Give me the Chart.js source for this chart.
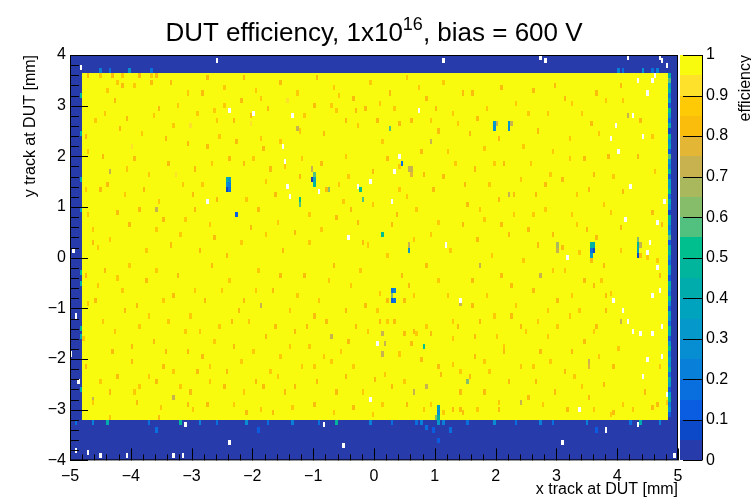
<!DOCTYPE html>
<html>
<head>
<meta charset="utf-8">
<script src="https://cdn.jsdelivr.net/npm/chart.js@4.4.0/dist/chart.umd.min.js"></script>
<style>
  html, body { margin: 0; padding: 0; background: #fff; }
</style>
</head>
<body>
<canvas id="c" width="751" height="498"></canvas>
<script>
// histogram binning (mm)
const xRange = [-5, 5];
const yRange = [-4, 4];
const binW = 0.04;
const binH = 0.05;
const pixelH = 0.1;   // height of one marked pixel (two bins)

// sensor area (fully efficient) and the region around it
const sensorX = [-4.8, 4.84];
const sensorY = [-3.2, 3.65];
const sensorEff = 1.0;
const outsideEff = 0.02;

const xTicks = [-5, -4, -3, -2, -1, 0, 1, 2, 3, 4, 5];
const yTicks = [-4, -3, -2, -1, 0, 1, 2, 3, 4];
const zTicks = [0, 0.1, 0.2, 0.3, 0.4, 0.5, 0.6, 0.7, 0.8, 0.9, 1];

// lower efficiency pixels inside the sensor [x, y, eff]
const speckles = [
  [-2.61,2.90,0.88],[-2.20,3.08,0.83],[-2.58,2.68,0.88],[-2.04,2.80,0.83],[-2.04,2.64,0.92],[-1.87,2.35,0.88],
  [-1.84,2.15,0.83],[-1.55,2.29,0.88],[-1.27,2.55,0.72],[-1.22,2.49,0.88],[-1.00,3.00,0.83],[-0.69,3.00,0.88],
  [-0.61,2.88,0.88],[-0.48,2.68,0.83],[-0.26,2.60,0.88],[0.05,2.68,0.83],[0.13,2.29,0.88],[0.63,2.68,0.83],
  [0.92,2.68,0.88],[0.92,2.29,0.72],[1.05,2.49,0.83],[1.20,2.09,0.88],[0.76,2.11,0.83],[0.40,1.82,0.88],
  [-0.03,1.70,0.83],[-0.44,1.60,0.88],[-0.77,1.37,0.83],[-1.46,1.82,0.88],[-1.71,1.76,0.83],[-1.99,1.96,0.88],
  [-2.15,1.86,0.83],[-2.53,2.39,0.88],[-2.75,2.21,0.83],[-2.81,1.46,0.88],[-2.57,1.17,0.83],[-2.09,1.17,0.88],
  [-1.91,0.97,0.83],[-1.58,0.72,0.88],[-1.30,0.52,0.83],[-1.05,0.83,0.88],[-0.61,0.81,0.83],[-0.51,1.11,0.88],
  [-0.28,0.68,0.83],[-0.02,1.03,0.88],[0.31,0.64,0.83],[0.71,0.97,0.88],[0.97,1.37,0.83],[1.04,0.72,0.88],
  [1.14,1.62,0.83],[0.43,1.37,0.88],[-2.04,0.62,0.83],[-2.20,0.32,0.88],[-2.61,0.42,0.83],[-1.05,0.32,0.88],
  [-0.18,0.32,0.83],[0.64,0.34,0.88],[-2.25,2.29,0.83],[-0.48,1.99,0.88],[-1.22,1.60,0.83],[0.59,1.76,0.72],
  [0.56,-0.54,0.83],[0.64,-0.74,0.88],[0.51,-0.84,0.83],[0.10,-0.70,0.88],[0.23,-0.84,0.83],[0.05,-1.03,0.88],
  [0.10,-1.23,0.83],[0.21,-1.23,0.88],[0.35,-1.23,0.83],[0.87,-1.33,0.88],[0.64,-1.43,0.83],[1.30,-1.23,0.88],
  [1.38,-1.33,0.83],[1.22,-0.76,0.88],[1.42,-0.90,0.72],[0.48,-1.52,0.83],[0.71,-1.52,0.88],[0.95,-1.48,0.83],
  [1.28,-1.62,0.88],[0.13,-1.52,0.72],[0.18,-1.72,0.72],[0.63,-1.72,0.83],[0.13,-1.92,0.72],[0.40,-1.92,0.88],
  [0.78,-2.02,0.83],[1.28,-2.11,0.88],[1.04,-2.13,0.83],[0.18,-2.31,0.88],[0.02,-2.41,0.83],[0.48,-2.43,0.88],
  [1.09,-2.31,0.83],[1.42,-2.27,0.88],[0.31,-2.53,0.83],[0.87,-2.53,0.72],[1.42,-2.63,0.83],[0.15,-2.92,0.88],
  [0.54,-2.92,0.83],[0.92,-2.92,0.88],[1.30,-3.00,0.83],[0.81,-3.02,0.88],[1.45,-3.06,0.83],[-0.02,-3.10,0.88],
  [0.67,-2.63,0.72],
  [3.67,0.38,0.83],[4.05,0.13,0.88],[3.11,0.19,0.83],[3.36,0.09,0.88],[3.83,-0.74,0.83],[3.26,-0.74,0.88],
  [4.05,0.58,0.83],[4.49,-0.01,0.88],[4.75,0.64,0.83],[4.66,-0.07,0.88],
  [4.05,3.39,0.83],[4.08,3.08,0.88],[4.16,2.78,0.72],[4.38,2.68,0.83],[4.59,2.41,0.88],[3.85,2.01,0.83],
  [3.92,1.62,0.88],[4.34,1.99,0.83],[4.62,1.72,0.88],[4.10,1.31,0.83],[3.88,0.91,0.88],[4.59,0.91,0.83],
  [3.77,-0.17,0.83],[3.75,-0.44,0.88],[4.71,-0.36,0.83],[3.88,-0.70,0.88],[3.80,-1.03,0.83],[4.05,-1.23,0.72],
  [4.00,-1.78,0.88],[3.92,-2.13,0.83],[4.71,-2.13,0.88],[3.77,-2.51,0.83],[4.10,-2.92,0.88],[4.46,-2.63,0.83],
  [3.88,-3.10,0.88],[4.66,-2.90,0.83],
  [-4.72,3.59,0.83],[-4.51,3.58,0.88],[-4.31,3.59,0.83],[-4.39,3.29,0.88],[-4.26,3.10,0.83],[-4.59,2.70,0.88],
  [-4.75,2.41,0.83],[-4.70,2.09,0.88],[-4.34,1.70,0.72],[-4.46,1.99,0.83],[-4.75,1.33,0.88],[-4.51,1.33,0.83],
  [-4.70,0.83,0.88],[-4.23,0.91,0.83],[-4.62,0.54,0.88],
  [-4.62,0.28,0.83],[-4.54,0.19,0.88],[-4.75,-0.34,0.83],[-4.72,-0.90,0.88],[-4.59,-0.84,0.83],[-4.79,-1.62,0.88],
  [-4.75,-2.13,0.83],[-4.62,-2.82,0.72],[-4.21,-0.40,0.88],
  [-4.14,3.59,0.88],[-4.13,3.39,0.83],[-3.93,3.39,0.88],[-3.85,3.59,0.83],[-3.68,3.59,0.88],[-3.57,3.59,0.83],
  [-4.23,3.43,0.88],[-3.68,3.43,0.83],
  [-4.62,-2.86,0.88],[-3.90,-2.86,0.83],[-3.52,-2.96,0.88],[-3.08,-2.90,0.83],[-2.98,-3.02,0.88],[-2.75,-2.92,0.83],
  [-2.32,-2.90,0.88],[-2.09,-3.06,0.83],[-1.87,-3.00,0.88],[-1.66,-3.06,0.83],[-1.33,-2.96,0.88],[-1.00,-2.90,0.83],
  [-0.67,-3.06,0.88],[-0.34,-2.96,0.83],[-3.55,-3.15,0.83],[-4.34,-3.15,0.88],
  [1.14,-3.06,0.88],[1.42,-3.00,0.83],[1.69,-3.02,0.88],[2.07,-3.02,0.83],[2.40,-2.86,0.72],[2.78,-2.92,0.88],
  [3.18,-3.02,0.83],[3.60,-3.00,0.88],[3.93,-3.06,0.83],[4.26,-3.02,0.88],[4.59,-2.96,0.83],[4.82,-2.86,0.88],
  [-4.05,2.75,0.83],[-3.82,2.45,0.88],[-3.55,2.95,0.83],[-3.30,2.62,0.88],[-3.05,2.25,0.83],[-2.90,2.85,0.88],
  [-3.95,1.95,0.83],[-3.70,1.65,0.88],[-3.40,1.85,0.83],[-3.15,1.45,0.88],[-2.95,1.75,0.83],[-4.10,1.25,0.88],
  [-3.85,0.95,0.83],[-3.60,0.55,0.88],[-3.35,0.25,0.83],[-3.10,0.75,0.88],[-2.88,0.15,0.83],[-4.02,-0.15,0.88],
  [-3.75,-0.45,0.83],[-3.48,-0.85,0.88],[-3.22,-0.35,0.83],[-2.95,-0.65,0.88],[-4.12,-1.05,0.83],[-3.88,-1.35,0.88],
  [-3.62,-1.65,0.83],[-3.38,-1.25,0.88],[-3.08,-1.85,0.83],[-2.85,-1.45,0.88],[-4.00,-2.05,0.83],[-3.72,-2.35,0.88],
  [-3.45,-2.15,0.83],[-3.18,-2.55,0.88],[-2.92,-2.25,0.83],[-3.95,-2.65,0.88],[-3.30,-2.75,0.72],[-3.60,0.95,0.72],
  [-2.65,-0.15,0.83],[-2.40,-0.45,0.88],[-2.15,-0.85,0.83],[-1.90,-0.25,0.88],[-1.65,-0.65,0.83],[-1.40,-1.05,0.88],
  [-1.15,-0.35,0.83],[-0.90,-0.85,0.88],[-0.65,-0.15,0.83],[-0.40,-0.55,0.88],[-0.15,-0.95,0.83],[-2.55,-1.35,0.88],
  [-2.30,-1.75,0.83],[-2.05,-1.25,0.88],[-1.80,-1.55,0.83],[-1.55,-1.95,0.88],[-1.30,-1.45,0.83],[-1.05,-1.75,0.88],
  [-0.80,-1.25,0.83],[-0.55,-1.85,0.88],[-0.30,-1.35,0.83],[-2.70,-2.15,0.88],[-2.45,-2.55,0.83],[-2.20,-2.05,0.88],
  [-1.95,-2.45,0.83],[-1.70,-2.25,0.88],[-1.45,-2.65,0.83],[-1.20,-2.15,0.88],[-0.95,-2.45,0.83],[-0.70,-2.05,0.88],
  [-0.45,-2.35,0.83],[-0.20,-2.65,0.88],[-1.85,-0.95,0.72],[-0.72,-1.55,0.72],
  [1.62,3.25,0.83],[1.85,2.95,0.88],[2.10,3.35,0.83],[2.35,3.05,0.88],[2.60,3.30,0.83],[2.85,2.85,0.88],
  [1.58,2.45,0.83],[1.80,2.15,0.88],[2.05,2.35,0.83],[2.45,2.20,0.88],[2.70,2.50,0.83],[2.95,2.10,0.88],
  [1.65,1.75,0.83],[1.90,1.45,0.88],[2.15,1.85,0.83],[2.40,1.55,0.88],[2.65,1.25,0.83],[2.90,1.65,0.88],
  [1.55,1.05,0.83],[1.80,0.75,0.88],[2.05,1.15,0.83],[2.30,0.85,0.88],[2.55,0.55,0.83],[2.80,0.95,0.88],
  [1.70,0.35,0.83],[1.95,0.05,0.88],[2.20,0.45,0.83],[2.45,-0.05,0.88],[2.70,0.25,0.83],[2.95,-0.25,0.88],
  [1.60,-0.45,0.83],[1.85,-0.75,0.88],[2.10,-0.35,0.83],[2.35,-0.95,0.88],[2.60,-0.65,0.83],[2.85,-1.05,0.88],
  [1.75,-1.25,0.83],[2.00,-1.55,0.88],[2.25,-1.15,0.83],[2.50,-1.45,0.88],[2.75,-1.85,0.83],[3.00,-1.35,0.88],
  [1.65,-1.95,0.83],[1.90,-2.25,0.88],[2.15,-1.85,0.83],[2.40,-2.15,0.88],[2.65,-2.45,0.83],[2.90,-2.05,0.88],
  [1.80,-2.65,0.83],[2.05,-2.85,0.88],[2.55,-2.75,0.83],[2.20,1.25,0.72],[2.75,-0.35,0.72],[1.75,-0.15,0.72],
  [3.15,3.15,0.83],[3.40,2.85,0.88],[3.65,3.25,0.83],[3.20,2.35,0.88],[3.45,1.95,0.83],[3.70,2.45,0.88],
  [3.10,1.55,0.83],[3.35,1.25,0.88],[3.60,1.65,0.83],[3.25,0.85,0.88],[3.50,0.55,0.83],[3.15,-0.25,0.88],
  [3.45,-0.45,0.83],[3.20,-1.15,0.88],[3.45,-1.65,0.83],[3.70,-1.95,0.88],[3.15,-2.25,0.83],[3.40,-2.55,0.88],
  [-3.35,3.45,0.83],[-3.05,3.25,0.88],[-2.75,3.55,0.83],[-2.45,3.35,0.88],[-2.15,3.55,0.83],[-1.85,3.15,0.88],
  [-1.55,3.45,0.83],[-1.25,3.25,0.88],[-0.95,3.55,0.83],[-0.65,3.35,0.88],[-0.35,3.15,0.83],[-0.05,3.45,0.88],
  [0.25,3.25,0.83],[0.55,3.55,0.88],[0.85,3.15,0.83],[1.15,3.45,0.88],[1.45,3.25,0.83],[0.35,2.95,0.88],
  [-0.15,2.95,0.83],[1.30,2.85,0.88],
  [0.20,0.05,0.88],[0.85,-0.15,0.83],[1.25,0.15,0.88],[0.45,-0.35,0.83],[1.05,-0.45,0.88],
  [-4.45,-1.25,0.88],[-4.30,-1.85,0.83],[-4.50,-2.45,0.88],[-4.35,-2.65,0.83],[-4.55,-0.55,0.88],
  [-4.43,2.87,0.88],[-4.17,2.53,0.83],[-3.97,2.21,0.92],[-3.61,2.78,0.88],[-3.44,2.37,0.83],[-3.21,3.01,0.88],
  [-3.02,2.58,0.92],[-2.83,3.27,0.83],[-2.47,3.02,0.88],[-2.29,2.71,0.83],[-1.95,3.31,0.88],[-1.73,2.93,0.83],
  [-1.41,3.08,0.92],[-1.13,2.82,0.88],[-0.83,2.47,0.83],[-0.57,3.22,0.88],[-0.31,2.91,0.83],[0.09,3.05,0.88],
  [0.42,2.63,0.83],[0.74,3.37,0.88],[1.02,2.96,0.83],[1.37,2.63,0.88],[1.71,2.75,0.83],[2.53,2.87,0.88],
  [2.97,3.42,0.83],[3.27,3.05,0.88],[3.57,2.67,0.83],[3.81,3.12,0.88],
  [-4.38,1.47,0.83],[-4.07,1.73,0.88],[-3.77,1.33,0.83],[-3.53,1.12,0.88],[-3.27,1.67,0.92],[-2.99,1.23,0.83],
  [-2.67,1.83,0.88],[-2.39,1.97,0.83],[-1.79,1.51,0.88],[-1.61,1.27,0.83],[-1.18,1.93,0.88],[-0.86,1.83,0.83],
  [-0.58,1.45,0.88],[0.21,1.93,0.83],[0.53,1.22,0.88],[0.83,1.67,0.83],[1.33,1.83,0.88],[1.51,1.43,0.83],
  [1.97,1.83,0.88],[2.29,1.23,0.83],[2.57,1.87,0.88],[2.83,1.43,0.83],[3.23,1.93,0.88],[3.53,1.37,0.83],
  [3.77,1.07,0.88],
  [-4.33,0.37,0.88],[-4.01,0.67,0.83],[-3.73,0.13,0.88],[-3.47,0.77,0.83],[-3.19,0.47,0.88],[-2.93,0.93,0.83],
  [-2.71,0.67,0.88],[-2.43,0.07,0.83],[-1.77,0.43,0.88],[-1.49,0.17,0.83],[-0.87,0.53,0.88],[-0.39,0.93,0.83],
  [-0.09,0.27,0.88],[0.39,0.83,0.83],[0.93,0.47,0.88],[1.47,0.67,0.83],[1.73,0.97,0.88],[2.09,0.63,0.83],
  [2.63,0.83,0.88],[2.93,0.43,0.83],[3.33,0.63,0.88],
  [-4.41,-0.27,0.83],[-4.13,-0.63,0.88],[-3.91,-0.93,0.83],[-3.57,-0.27,0.88],[-3.29,-0.73,0.83],[-3.03,-1.13,0.88],
  [-2.77,-0.87,0.83],[-2.51,-0.63,0.88],[-2.21,-1.07,0.83],[-1.93,-0.67,0.88],[-1.53,-0.37,0.83],[-1.27,-0.77,0.88],
  [-0.99,-1.17,0.83],[-0.73,-0.43,0.88],[-0.47,-1.03,0.83],[-0.23,-0.27,0.88],[1.61,-0.93,0.83],[1.97,-1.13,0.88],
  [2.27,-0.57,0.83],[2.69,-1.27,0.88],[3.01,-0.83,0.83],[3.39,-1.03,0.88],[3.63,-0.57,0.83],
  [-4.27,-1.47,0.88],[-3.99,-1.77,0.83],[-3.69,-1.13,0.88],[-3.41,-1.87,0.83],[-3.11,-1.43,0.88],[-2.83,-1.97,0.83],
  [-2.63,-1.63,0.88],[-2.33,-1.27,0.83],[-1.99,-1.83,0.88],[-1.63,-1.33,0.83],[-1.37,-1.73,0.88],[-1.09,-1.37,0.83],
  [-0.81,-1.93,0.88],[-0.43,-1.63,0.83],[-0.11,-1.47,0.88],[1.67,-1.57,0.83],[2.13,-1.73,0.88],[2.43,-1.33,0.83],
  [2.87,-1.53,0.88],[3.27,-1.83,0.83],[3.61,-1.47,0.88],
  [-4.21,-2.33,0.83],[-3.87,-2.57,0.88],[-3.57,-2.43,0.83],[-3.29,-2.27,0.88],[-3.01,-2.67,0.83],[-2.71,-2.47,0.88],
  [-2.43,-2.23,0.83],[-2.13,-2.67,0.88],[-1.81,-2.57,0.83],[-1.57,-2.33,0.88],[-1.29,-2.53,0.83],[-0.99,-2.17,0.88],
  [-0.61,-2.67,0.83],[-0.33,-2.13,0.88],[1.57,-2.37,0.83],[1.83,-2.07,0.88],[2.23,-2.43,0.83],[2.61,-2.17,0.88],
  [2.97,-2.63,0.83],[3.29,-2.37,0.88],[3.53,-2.77,0.83]
];

// clusters of inefficient pixels [x, y, eff]
const defects = [
  [-2.42,1.55,0.42],[-2.38,1.55,0.3],[-2.42,1.45,0.27],[-2.38,1.45,0.22],[-2.42,1.35,0.08],[-2.38,1.35,0.18],
  [-1.02,1.55,0.04],[-0.98,1.65,0.55],[-0.98,1.55,0.35],[-0.98,1.45,0.45],[-1.02,1.75,0.7],
  [-1.22,1.15,0.5],[-1.22,1.05,0.55],[0.26,2.55,0.55],[-0.22,1.35,0.5],[-0.18,1.15,0.55],[0.14,0.45,0.5],
  [-0.74,1.35,0.6],[0.46,1.85,0.15],[-2.26,0.85,0.1],
  [0.30,-0.65,0.18],[0.34,-0.65,0.22],[0.30,-0.75,0.62],[0.30,-0.85,0.12],[0.34,-0.85,0.15],
  [0.82,-1.75,0.5],[1.06,-2.95,0.35],[1.06,-3.05,0.25],[1.06,-3.15,0.45],[1.02,-3.15,0.6],[1.54,-2.45,0.6],
  [3.58,0.25,0.45],[3.62,0.25,0.4],[3.58,0.15,0.15],[3.62,0.15,0.05],[3.58,0.05,0.3],[3.58,-0.05,0.82],
  [4.34,0.35,0.6],[4.34,0.25,0.45],[4.38,0.25,0.7],[4.34,0.15,0.35],[4.34,0.05,0.08],[4.38,0.05,0.8],
  [1.98,2.65,0.3],[2.02,2.65,0.72],[1.98,2.55,0.25],[2.22,2.65,0.3],[2.26,2.65,0.72],[2.22,2.55,0.25],
  [0.58,0.25,0.7],[0.58,0.15,0.3],[0.62,1.75,0.72],[0.62,1.65,0.75],[3.02,0.25,0.65],[3.02,0.15,0.7],
  [3.54,-2.05,0.7],[3.54,-2.15,0.75],[3.66,-1.35,0.8]
];

// hits outside the sensor edge [x, y, eff]
const outsideHits = [
  [-4.92,-3.25,0.15],[-4.64,-3.25,0.2],[-4.38,-3.25,0.4],[-3.72,-3.25,0.15],[-3.19,-3.25,0.45],[-2.86,-3.25,0.2],
  [-2.58,-3.25,0.15],[-2.09,-3.25,0.25],[-1.76,-3.25,0.15],[-1.33,-3.25,0.2],[-0.89,-3.25,0.15],[-0.61,-3.25,0.45],
  [-0.07,-3.25,0.2],[0.31,-3.25,0.15],[0.76,-3.25,0.2],[1.04,-3.25,0.3],[0.71,-3.25,0.15],[1.14,-3.25,0.2],
  [1.53,-3.25,0.15],[1.96,-3.25,0.25],[2.35,-3.25,0.15],[2.73,-3.25,0.2],[2.94,-3.25,0.15],[3.50,-3.25,0.2],
  [4.21,-3.25,0.15],[4.38,-3.25,0.4],[4.70,-3.25,0.2],
  [-3.60,-3.41,0.15],[-1.92,-3.41,0.12],[0.87,-3.35,0.15],[0.97,-3.41,0.12],[1.25,-3.41,0.15],[3.67,-3.41,0.12],
  [1.04,-3.59,0.12],
  [-4.51,3.70,0.2],[-4.34,3.70,0.15],[-4.01,3.70,0.25],[-3.65,3.70,0.15],[4.01,3.70,0.2],[4.10,3.70,0.15],
  [4.42,3.70,0.25],[4.59,3.70,0.15],[4.67,3.70,0.2]
];

// left edge column (x = -4.82)
const leftEdgeX = -4.82;
const leftEdgeY = [3.19, 2.45, 1.56, 0.95, -0.30, -0.50, -1.39, -1.54, -2.60];
const leftEdgeV = [0.45, 0.4, 0.35, 0.3, 0.45, 0.4, 0.45, 0.4, 0.35];

// right edge column (x = 4.86), rows from y = 3.60 downwards
const rightEdgeX = 4.86;
const rightEdgeV = [
  0.4,0.55,0.3,0.45,0.2,0.35,0.1,0.5,0.3,0.15,
  0.4,0.08,0.45,0.25,0.35,0.12,0.55,0.3,0.2,0.45,
  0.1,0.35,0.3,0.5,0.15,0.4,0.25,0.08,0.45,0.35,
  0.2,0.3,0.55,0.12,0.35,0.45,0.25,0.15,0.4,0.3,
  0.1,0.45,0.35,0.2,0.5,0.25,0.12,0.4,0.3,0.15,
  0.45,0.35,0.1,0.3,0.5,0.2,0.35,0.25,0.45,0.15,
  0.4,0.3,0.1,0.35,0.45,0.2,0.3,0.12
];

// bins without entries [x, y]
const emptyBins = [
  [-4.84,3.76],[-4.95,0.17],[-4.92,-1.13],[-4.97,-1.92],[-4.88,-2.43],[-4.92,-3.80],[-4.70,-3.84],[-4.51,-3.92],
  [-4.06,-3.92],[-3.31,-3.92],[-3.16,-3.92],[-3.11,-3.31],[-2.37,-3.63],[-0.84,-3.31],[-0.51,-3.72],[4.33,-3.31],
  [3.83,-3.41],[3.11,-3.63],[4.92,-3.92],[-2.60,3.92],[1.15,3.90],[2.73,3.95],[2.83,3.88],[4.18,3.95],
  [4.70,3.95],[4.75,3.88],[4.82,3.80],
  [3.39,-3.02],[-2.37,2.90],[-1.99,2.84],[-1.33,2.80],[-1.51,2.21],[-1.46,1.90],[-1.41,1.41],[-1.40,1.19],
  [-2.73,1.11],[-0.92,1.31],[-0.28,1.39],[-0.07,1.50],[0.43,1.98],[0.74,2.88],[0.35,1.70],[0.28,1.09],
  [-0.44,0.38],[1.18,0.27],[3.19,-0.01],[4.52,0.29],[4.51,0.09],[4.65,0.68],[4.65,-0.21],[4.70,-0.64],
  [4.59,-0.74],[4.13,0.76],[0.05,-1.72],[1.40,-0.84],[-0.07,-2.82],[4.34,3.49],[4.26,2.78],[3.96,2.58],
  [3.88,2.35],[4.51,3.27],[4.57,3.49],[4.62,3.59],[4.79,1.11],[4.21,1.41],[4.42,2.39],[4.01,2.09],
  [4.74,-1.33],[4.26,-1.43],[4.38,-1.52],[4.57,-1.52],[4.74,-1.94],[4.49,-2.01],[4.82,-2.70],[4.42,-2.33],
  [3.93,-0.84],[4.10,-1.03],[4.16,-1.23]
];

// 20-step colour palette, 0 -> 1
const palette = [
  '#283bab', '#0c49c9', '#0a5de0', '#096fdf', '#087fd8', '#078dd2', '#0499ca', '#00a3bd',
  '#00acac', '#00b59b', '#00bf8e', '#52c07e', '#86bd6b', '#a9b85c', '#c8b24f', '#e3b636',
  '#fbbd0b', '#fdca05', '#fde12b', '#f9fb0e'
];

function colorFor(v) {
  const k = Math.min(palette.length - 1, Math.max(0, Math.floor(v * palette.length + 1e-9)));
  return palette[k];
}

// build the histogram
const nx = Math.round((xRange[1] - xRange[0]) / binW);
const ny = Math.round((yRange[1] - yRange[0]) / binH);
const grid = [];
for (let i = 0; i < nx; i++) {
  grid.push([]);
  for (let j = 0; j < ny; j++) {
    const cx = xRange[0] + (i + 0.5) * binW;
    const cy = yRange[0] + (j + 0.5) * binH;
    const inside = cx > sensorX[0] && cx < sensorX[1] && cy > sensorY[0] && cy < sensorY[1];
    grid[i].push(inside ? sensorEff : outsideEff);
  }
}
function setBin(x, y, v) {
  const i = Math.floor((x - xRange[0]) / binW + 1e-6);
  const j = Math.floor((y - yRange[0]) / binH + 1e-6);
  if (i >= 0 && i < nx && j >= 0 && j < ny) grid[i][j] = v;
}
// one pixel = two bins in y
function setPixel(x, y, v) {
  setBin(x, y - pixelH / 4, v);
  setBin(x, y + pixelH / 4, v);
}
rightEdgeV.forEach((v, k) => setPixel(rightEdgeX, 3.60 - k * pixelH, v));
leftEdgeY.forEach((y, k) => setPixel(leftEdgeX, y, leftEdgeV[k]));
outsideHits.forEach(p => setPixel(p[0], p[1], p[2]));
speckles.forEach(p => setPixel(p[0], p[1], p[2]));
defects.forEach(p => setPixel(p[0], p[1], p[2]));
emptyBins.forEach(p => setPixel(p[0], p[1], null));

const cells = [];
for (let i = 0; i < nx; i++) {
  for (let j = 0; j < ny; j++) {
    cells.push({ x: xRange[0] + (i + 0.5) * binW, y: yRange[0] + (j + 0.5) * binH, v: grid[i][j] });
  }
}

const FONT = 'Liberation Sans, Arial, sans-serif';
const minus = s => String(s).replace('-', '\u2212');

// draws the cells, frame, ticks, palette and the titles
const heatmapPlugin = {
  id: 'heatmap',
  beforeDatasetsDraw(chart) {
    const { ctx, scales: { x, y } } = chart;
    ctx.save();
    chart.data.datasets[0].data.forEach(p => {
      if (p.v === null) return;
      const x0 = Math.round(x.getPixelForValue(p.x - binW / 2));
      const x1 = Math.round(x.getPixelForValue(p.x + binW / 2));
      const y0 = Math.round(y.getPixelForValue(p.y - binH / 2));
      const y1 = Math.round(y.getPixelForValue(p.y + binH / 2));
      ctx.fillStyle = colorFor(p.v);
      ctx.fillRect(x0, y1, x1 - x0, y0 - y1);
    });
    ctx.restore();
  },
  afterDraw(chart) {
    const { ctx, chartArea: a, scales: { x, y, z } } = chart;
    ctx.save();

    // palette
    const barL = a.right + 2, barR = a.right + 24;
    palette.forEach((c, k) => {
      const t = Math.round(z.getPixelForValue((k + 1) / palette.length));
      const b = Math.round(z.getPixelForValue(k / palette.length));
      ctx.fillStyle = c;
      ctx.fillRect(barL, t, barR - barL, b - t);
    });
    ctx.strokeStyle = '#000';
    ctx.lineWidth = 1;
    ctx.beginPath();
    ctx.moveTo(barR + 0.5, a.top);
    ctx.lineTo(barR + 0.5, a.bottom);
    zTicks.forEach(v => {
      const py = Math.round(z.getPixelForValue(v)) + 0.5;
      ctx.moveTo(barR, py);
      ctx.lineTo(barR - 19, py);
    });
    ctx.stroke();

    // frame
    ctx.strokeRect(a.left + 0.5, a.top + 0.5, a.right - a.left - 1, a.bottom - a.top - 1);

    // axis ticks (inside the frame)
    ctx.beginPath();
    for (let k = 0; k <= 50; k++) {
      const v = xRange[0] + k * 0.2;
      const px = Math.round(x.getPixelForValue(v)) + 0.5;
      const len = k % 5 === 0 ? 12 : 6;
      ctx.moveTo(px, a.bottom);
      ctx.lineTo(px, a.bottom - len);
    }
    for (let k = 0; k <= 40; k++) {
      const v = yRange[0] + k * 0.2;
      const py = Math.round(y.getPixelForValue(v)) + 0.5;
      const len = k % 5 === 0 ? 18 : 9;
      ctx.moveTo(a.left, py);
      ctx.lineTo(a.left + len, py);
    }
    ctx.stroke();

    // title with superscript
    ctx.fillStyle = '#000';
    ctx.textBaseline = 'alphabetic';
    const big = '26px ' + FONT, small = '18px ' + FONT;
    const t1 = 'DUT efficiency, 1x10', t2 = '16', t3 = ', bias = 600 V';
    ctx.font = big;
    const w1 = ctx.measureText(t1).width, w3 = ctx.measureText(t3).width;
    ctx.font = small;
    const w2 = ctx.measureText(t2).width;
    const tx = 374 - (w1 + w2 + w3) / 2;
    const ty = 41;
    ctx.font = big;
    ctx.textAlign = 'left';
    ctx.fillText(t1, tx, ty);
    ctx.font = small;
    ctx.fillText(t2, tx + w1, ty - 11);
    ctx.font = big;
    ctx.fillText(t3, tx + w1 + w2, ty);

    // axis titles
    ctx.font = '16px ' + FONT;
    ctx.textAlign = 'right';
    ctx.fillText('x track at DUT [mm]', a.right, 494);

    ctx.save();
    ctx.translate(35, a.top);
    ctx.rotate(-Math.PI / 2);
    ctx.fillText('y track at DUT [mm]', 0, 0);
    ctx.restore();

    ctx.save();
    ctx.translate(750, a.top);
    ctx.rotate(-Math.PI / 2);
    ctx.fillText('efficiency', 0, 0);
    ctx.restore();

    ctx.restore();
  }
};

Chart.defaults.color = '#000';
Chart.defaults.font.family = FONT;

new Chart(document.getElementById('c'), {
  type: 'scatter',
  data: {
    datasets: [{
      label: 'efficiency',
      data: cells,
      pointRadius: 0,
      pointHoverRadius: 0
    }]
  },
  options: {
    responsive: false,
    animation: false,
    events: [],
    devicePixelRatio: 1,
    layout: { padding: { top: 55, left: 0, right: 0, bottom: 0 } },
    plugins: { legend: { display: false }, tooltip: { enabled: false }, title: { display: false } },
    scales: {
      x: {
        type: 'linear', min: xRange[0], max: xRange[1],
        grid: { display: false, drawTicks: false }, border: { display: false },
        ticks: { stepSize: 1, autoSkip: false, maxRotation: 0, padding: 7, font: { size: 16 }, callback: v => minus(v) },
        afterBuildTicks: s => { s.ticks = xTicks.map(v => ({ value: v })); },
        afterFit: s => { s.height = 36; }
      },
      y: {
        type: 'linear', min: yRange[0], max: yRange[1],
        grid: { display: false, drawTicks: false }, border: { display: false },
        ticks: { stepSize: 1, autoSkip: false, padding: 4, font: { size: 16 }, callback: v => minus(v) },
        afterBuildTicks: s => { s.ticks = yTicks.map(v => ({ value: v })); },
        afterFit: s => { s.width = 70; }
      },
      z: {
        type: 'linear', position: 'right', min: 0, max: 1,
        grid: { display: false, drawTicks: false }, border: { display: false },
        ticks: { stepSize: 0.1, autoSkip: false, padding: 28, font: { size: 16 }, callback: v => String(Math.round(v * 10) / 10) },
        afterBuildTicks: s => { s.ticks = zTicks.map(v => ({ value: v })); },
        afterFit: s => { s.width = 73; }
      }
    }
  },
  plugins: [heatmapPlugin]
});
</script>
</body>
</html>
